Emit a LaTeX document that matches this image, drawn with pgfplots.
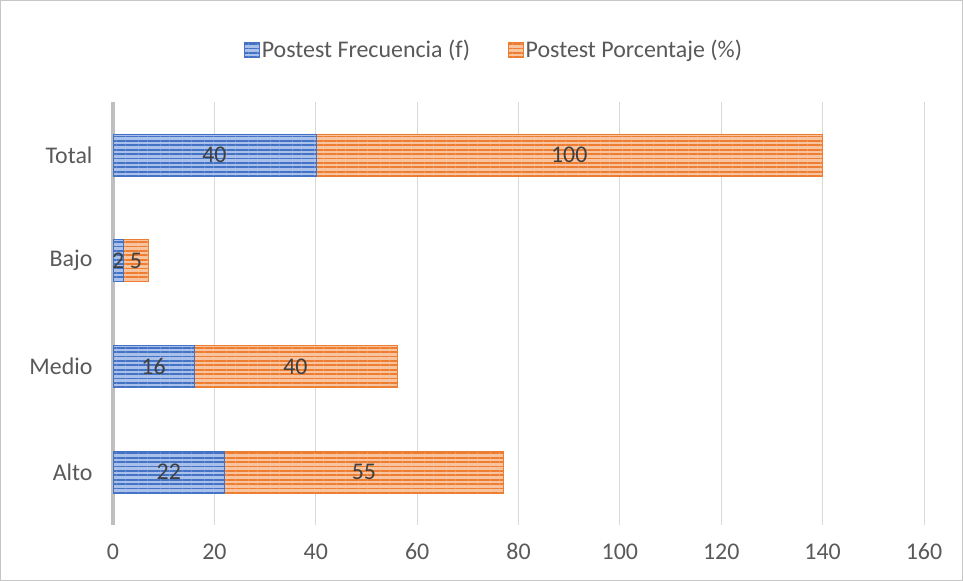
\documentclass[border=0pt]{standalone}
\usepackage{pgfplots}
\pgfplotsset{compat=1.18}
\usepackage{pgfplotstable}
\usetikzlibrary{patterns.meta}
\usepackage{fontspec}
\setmainfont{Carlito}

\definecolor{cblue}{HTML}{4472C4}
\definecolor{cblueL}{HTML}{A9C0EA}
\definecolor{corange}{HTML}{ED7D31}
\definecolor{corangeL}{HTML}{F8C4A0}
\definecolor{txt}{HTML}{595959}
\definecolor{lbl}{HTML}{404040}

\pgfplotstableread{
cat f p
0 22 55
1 16 40
2 2 5
3 40 100
}\datatab

\begin{document}
\begin{tikzpicture}
\draw[draw=gray!45, line width=0.8bp] (0.4bp,0.4bp) rectangle (962.6bp,580.6bp);
\begin{axis}[
    at={(113bp,56bp)}, anchor=south west,
    scale only axis,
    width=811bp, height=423bp,
    xbar stacked,
    bar width=42bp,
    xmin=0, xmax=160,
    ymin=-0.5, ymax=3.5,
    xtick={20,40,...,160},
    extra x ticks={0},
    extra x tick style={grid style={draw=black!25, line width=3bp}},
    ytick={0,1,2,3},
    yticklabels={Alto,Medio,Bajo,Total},
    xmajorgrids,
    grid style={draw=black!15, line width=1bp},
    axis line style={draw=none},
    major tick length=0pt,
    tick label style={font=\fontsize{24}{27}\selectfont, text=txt},
    xticklabel style={yshift=-15bp},
    yticklabel style={xshift=-17bp},
    /pgf/number format/assume math mode=true,
    legend style={at={(0.47,1)}, anchor=south, yshift=39bp, draw=none,
        legend columns=2, font=\fontsize{24}{27}\selectfont, text=txt,
        /tikz/every even column/.append style={column sep=36bp}},
    legend image code/.code={\draw[#1] (-4bp,-7.5bp) rectangle (11bp,7.5bp);},
    nodes near coords,
    point meta=explicit,
    every node near coord/.append style={font=\fontsize{24}{27}\selectfont, text=lbl,
        anchor=center},
]
\addplot[fill=cblueL, draw=cblue, line width=0.5bp,
    postaction={pattern={Lines[distance=4.4bp, line width=1.8bp]}, pattern color=cblue}]
    table[x=f, y=cat, meta=f] {\datatab};
\addplot[fill=corangeL, draw=corange, line width=0.5bp,
    postaction={pattern={Lines[distance=4.4bp, line width=1.8bp]}, pattern color=corange}]
    table[x=p, y=cat, meta=p] {\datatab};
\legend{Postest Frecuencia (f), Postest Porcentaje (\%)}
\end{axis}
\end{tikzpicture}
\end{document}
